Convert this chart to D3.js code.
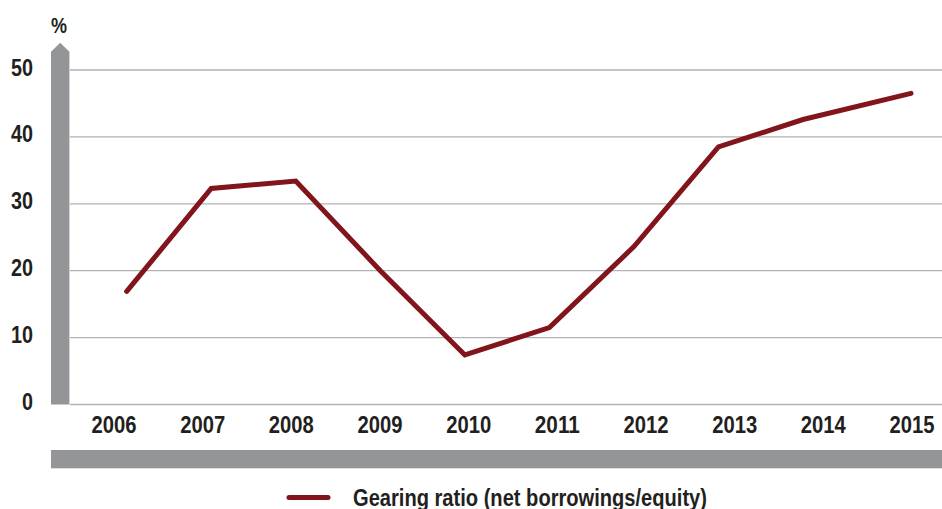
<!DOCTYPE html>
<html><head><meta charset="utf-8">
<script src="https://cdn.jsdelivr.net/npm/d3@7"></script>
<style>html,body{margin:0;padding:0;background:#fff;}svg{display:block;}</style>
</head><body>
<svg id="chart" width="942" height="509"></svg>
<script>
const years = [2006, 2007, 2008, 2009, 2010, 2011, 2012, 2013, 2014, 2015];
const gearing = [16.9, 32.3, 33.4, 20.0, 7.4, 11.5, 23.6, 38.5, 42.6, 46.5];
const yTicks = [0, 10, 20, 30, 40, 50];
const seriesName = "Gearing ratio (net borrowings/equity)";
const unitLabel = "%";

const FONT = "'Liberation Sans Narrow','Arial Narrow','Liberation Sans',sans-serif";
const GRAY = "#939598";
const RED = "#82141b";
const TXT = "#231f20";

const svg = d3.select("#chart");
const y = d3.scaleLinear().domain([0, 50]).range([404.5, 70]);
const xLabel = d3.scalePoint().domain(years).range([114, 912]);
const xLine = d3.scaleLinear().domain([2006, 2014, 2015]).range([126.7, 803, 911]);

// gridlines
svg.append("g").selectAll("line").data(yTicks).join("line")
  .attr("x1", 70).attr("x2", 942)
  .attr("y1", d => y(d)).attr("y2", d => y(d))
  .attr("stroke", "#b2b2b4").attr("stroke-width", 1.3);

// y axis arrow bar
svg.append("path")
  .attr("d", `M51,${y(0)} L51,51.7 L60.2,42.7 L69.4,51.7 L69.4,${y(0)} Z`)
  .attr("fill", GRAY);

// bottom bar
svg.append("rect").attr("x", 51).attr("y", 450).attr("width", 891).attr("height", 18.3).attr("fill", GRAY);

function styleText(sel, size) {
  return sel.attr("font-family", FONT).attr("font-weight", "bold")
    .attr("font-size", size).attr("fill", TXT)
    .attr("lengthAdjust", "spacingAndGlyphs");
}

// y labels
styleText(svg.append("g").selectAll("text").data(yTicks).join("text"), 24)
  .attr("x", 33).attr("y", d => y(d) + 5.5)
  .attr("text-anchor", "end")
  .attr("textLength", d => String(d).length * 11)
  .text(d => d);

styleText(svg.append("text"), 22)
  .attr("x", 59).attr("y", 33).attr("text-anchor", "middle")
  .attr("textLength", 16)
  .text(unitLabel);

// x labels
styleText(svg.append("g").selectAll("text").data(years).join("text"), 24)
  .attr("x", d => xLabel(d)).attr("y", 433)
  .attr("text-anchor", "middle")
  .attr("textLength", 45)
  .text(d => d);

// line
const line = d3.line().x((d, i) => xLine(years[i])).y(d => y(d));
svg.append("path").datum(gearing)
  .attr("d", line)
  .attr("fill", "none").attr("stroke", RED).attr("stroke-width", 5)
  .attr("stroke-linejoin", "miter").attr("stroke-linecap", "round");

// legend
svg.append("line").attr("x1", 289).attr("x2", 328).attr("y1", 497.5).attr("y2", 497.5)
  .attr("stroke", RED).attr("stroke-width", 5).attr("stroke-linecap", "round");
styleText(svg.append("text"), 23)
  .attr("x", 353).attr("y", 505.5)
  .attr("textLength", 354)
  .text(seriesName);
</script>
</body></html>
